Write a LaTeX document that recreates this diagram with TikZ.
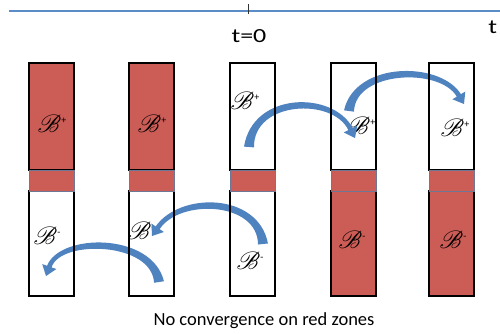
\documentclass[tikz,border=0pt]{standalone}
\usepackage{fontspec}
\setmainfont{Carlito}
\usepackage{mathrsfs}
\usetikzlibrary{arrows.meta,shadows,calc}
\definecolor{zonered}{RGB}{204,92,86}
\definecolor{arrblue}{RGB}{79,131,192}
\definecolor{axisblue}{RGB}{90,140,200}
\definecolor{bandedge}{RGB}{110,120,150}
\tikzset{
  colfill/.style={line width=0pt, minimum width=45pt, inner sep=0pt, anchor=north west,
    drop shadow={shadow xshift=1.3pt, shadow yshift=-1.3pt, opacity=0.35}},
  upbox/.style={colfill, minimum height=107pt},
  lowbox/.style={colfill, minimum height=105pt},
  boxline/.style={draw=black, line width=1.1pt},
  bandbox/.style={draw=bandedge, line width=0.6pt, fill=zonered, minimum width=45pt, minimum height=21pt, inner sep=0pt, anchor=north west},
  blab/.style={inner sep=0pt},
  txt/.style={font=\fontsize{18.5}{18.5}\selectfont, inner sep=0pt},
  bigtxt/.style={font=\fontsize{20}{20}\selectfont, inner sep=0pt, xscale=1.3}
}
\newcommand\zoneB[1]{{\fontsize{26}{26}\selectfont$\mathscr{B}$}\raisebox{9pt}{\fontsize{10}{10}\selectfont #1}}
% tapered arrow: S C1 C2 E angle -angle
\newcommand\taparrow[6]{%
  \coordinate (tB) at ($(#4)!10pt!(#3)$);
  \fill[arrblue] ($(#1)!5pt!#5:(#2)$) .. controls ($(#2)!4.7pt!#5:(#3)$) and ($(#3)!3.4pt!#6:(#2)$) .. ($(tB)!2.4pt!#5:(#4)$)
    -- ($(tB)!7.5pt!#5:(#4)$) -- (#4) -- ($(tB)!7.5pt!#6:(#4)$) -- ($(tB)!2.4pt!#6:(#4)$)
    .. controls ($(#3)!3.4pt!#5:(#2)$) and ($(#2)!4.7pt!#6:(#3)$) .. ($(#1)!5pt!#6:(#2)$) -- cycle;
}
\begin{document}
\begin{tikzpicture}[x=1pt,y=-1pt]
\useasboundingbox (0,0) rectangle (500,333);
% time axis
\coordinate (axl) at (9,11);
\coordinate (axr) at (500,11);
\draw[axisblue, line width=2.6pt] (axl) -- (axr);
\coordinate (tk1) at (248,4);
\coordinate (tk2) at (248,14);
\draw[black!80, line width=0.9pt] (tk1) -- (tk2);
\node[bigtxt] (t0) at (249,36) {t=0};
\node[bigtxt, anchor=west] (t1) at (488,27) {t};
% column fills
\node[upbox, fill=zonered] (u1) at (29,63) {};
\node[upbox, fill=zonered] (u2) at (129,63) {};
\node[upbox, fill=white] (u3) at (230,63) {};
\node[upbox, fill=white] (u4) at (331,63) {};
\node[upbox, fill=white] (u5) at (429,63) {};
\node[lowbox, fill=white] (l1) at (29,191) {};
\node[lowbox, fill=white] (l2) at (129,191) {};
\node[lowbox, fill=white] (l3) at (230,191) {};
\node[lowbox, fill=zonered] (l4) at (331,191) {};
\node[lowbox, fill=zonered] (l5) at (429,191) {};
% labels
\node[blab] (p1) at (52,124) {\zoneB{+}};
\node[blab] (p2) at (152,124) {\zoneB{+}};
\node[blab] (p3) at (245,101) {\zoneB{+}};
\node[blab] (p4) at (361,126) {\zoneB{+}};
\node[blab] (p5) at (455,128) {\zoneB{+}};
\node[blab] (n1) at (47,236) {\zoneB{-}};
\node[blab] (n2) at (141,231) {\zoneB{-}};
\node[blab] (n3) at (250,261) {\zoneB{-}};
\node[blab] (n4) at (352,240) {\zoneB{-}};
\node[blab] (n5) at (453,240) {\zoneB{-}};
% arrows
\coordinate (a1s) at (263,244);
\coordinate (a1c1) at (258,197);
\coordinate (a1c2) at (180,195);
\coordinate (a1e) at (152,236);
\coordinate (a2s) at (159,282);
\coordinate (a2c1) at (152,237);
\coordinate (a2c2) at (60,236);
\coordinate (a2e) at (46,276);
\coordinate (a3s) at (249,147);
\coordinate (a3c1) at (253,96);
\coordinate (a3c2) at (333,94);
\coordinate (a3e) at (355,138);
\coordinate (a4s) at (349,111);
\coordinate (a4c1) at (355,66);
\coordinate (a4c2) at (440,64);
\coordinate (a4e) at (464,104);
\taparrow{a1s}{a1c1}{a1c2}{a1e}{-90}{90}
\taparrow{a2s}{a2c1}{a2c2}{a2e}{-90}{90}
\taparrow{a3s}{a3c1}{a3c2}{a3e}{90}{-90}
\taparrow{a4s}{a4c1}{a4c2}{a4e}{90}{-90}
% box borders
\foreach \k in {1,...,5}{
  \draw[boxline] (u\k.north west) rectangle (u\k.south east);
  \draw[boxline] (l\k.north west) rectangle (l\k.south east);
}
% bands
\node[bandbox] (m1) at (29,170) {};
\node[bandbox] (m2) at (129,170) {};
\node[bandbox] (m3) at (230,170) {};
\node[bandbox] (m4) at (331,170) {};
\node[bandbox] (m5) at (429,170) {};
% caption
\node[txt] (cap) at (264,321) {No convergence on red zones};
\end{tikzpicture}
\end{document}
